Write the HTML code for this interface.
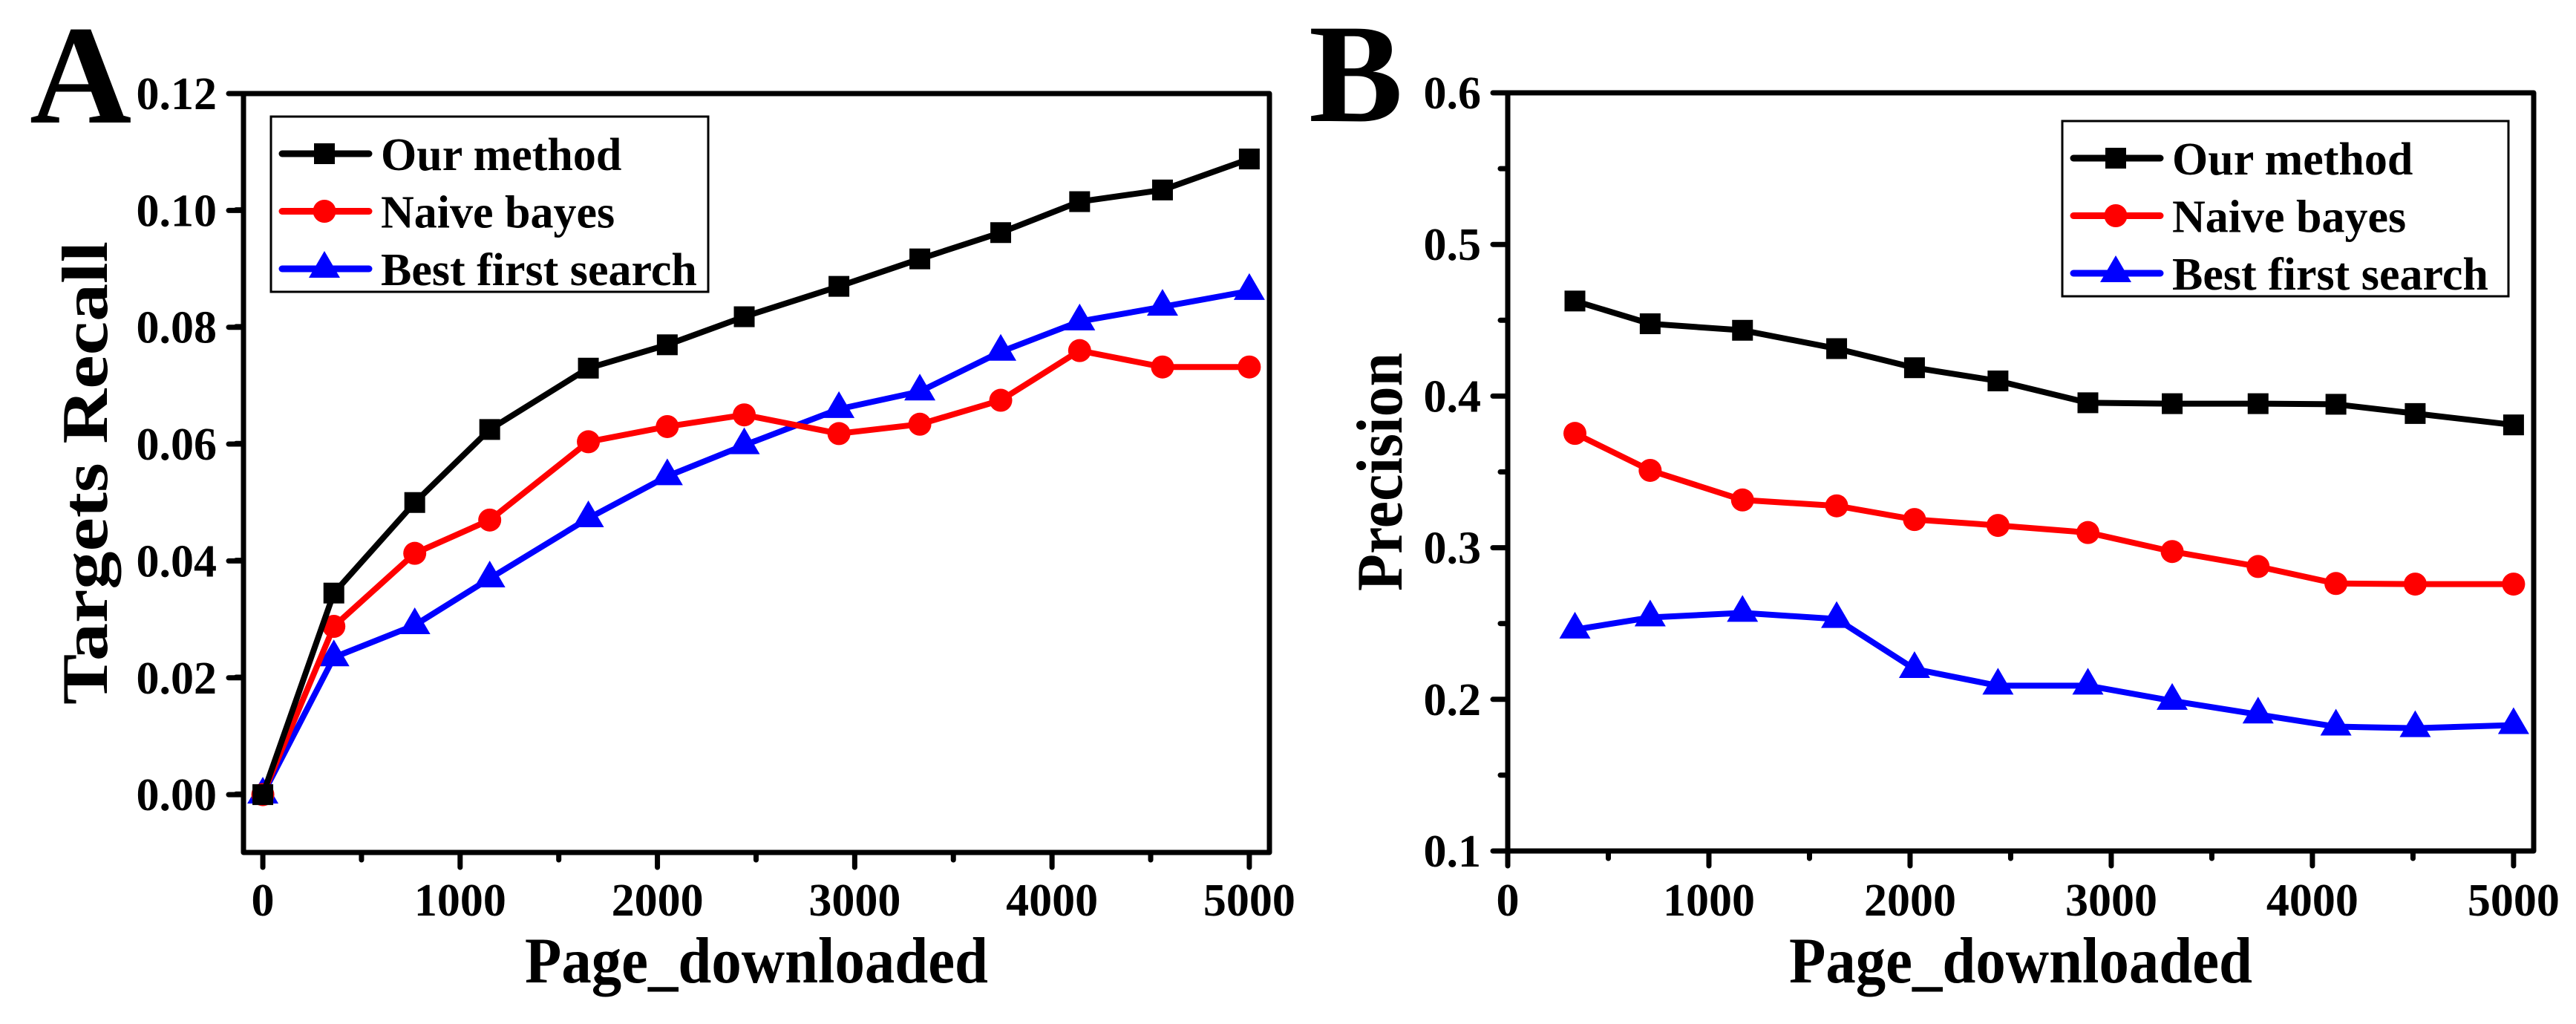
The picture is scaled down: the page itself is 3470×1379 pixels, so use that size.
<!DOCTYPE html>
<html><head><meta charset="utf-8"><style>
html,body{margin:0;padding:0;background:#fff;}
svg{display:block;font-family:"Liberation Serif",serif;font-weight:bold;}
svg text{font-family:"Liberation Serif","DejaVu Serif",serif;font-weight:bold;}
</style></head><body>
<svg id="fig" width="3470" height="1379" viewBox="0 0 3470 1379" xmlns="http://www.w3.org/2000/svg">
<rect width="3470" height="1379" fill="#fff"/>
<text x="40" y="165" font-size="190" font-family="Liberation Serif, serif" font-weight="bold">A</text>
<text x="1763" y="163" font-size="190" font-family="Liberation Serif, serif" font-weight="bold">B</text>
<g id="chartA"></g>
<g id="chartB"></g>
</svg>
<script>
// Panel A data
const xA = [0, 360, 770, 1150, 1650, 2050, 2440, 2920, 3330, 3740, 4140, 4560, 5000];
const ourA = [0, 0.0345, 0.050, 0.0625, 0.073, 0.077, 0.0818, 0.087, 0.0917, 0.0962, 0.1015, 0.1035, 0.1088];
const naiveA = [0, 0.0288, 0.0413, 0.047, 0.0604, 0.063, 0.065, 0.0618, 0.0634, 0.0675, 0.076, 0.0732, 0.0732];
const bestA = [0, 0.0235, 0.029, 0.037, 0.0473, 0.0545, 0.0598, 0.066, 0.069, 0.0758, 0.081, 0.0835, 0.0862];
const yTicksA = ["0.00","0.02","0.04","0.06","0.08","0.10","0.12"];
// Panel B data
const xB = [334, 708, 1167, 1635, 2022, 2437, 2884, 3303, 3730, 4117, 4511, 5000];
const ourB = [0.4627, 0.4477, 0.4434, 0.4313, 0.4187, 0.410, 0.3956, 0.395, 0.395, 0.3946, 0.3885, 0.381];
const naiveB = [0.3754, 0.351, 0.3315, 0.3276, 0.3186, 0.3147, 0.310, 0.2975, 0.2876, 0.2764, 0.276, 0.276];
const bestB = [0.246, 0.254, 0.257, 0.253, 0.220, 0.209, 0.209, 0.199, 0.190, 0.182, 0.181, 0.183];
const yTicksB = ["0.1","0.2","0.3","0.4","0.5","0.6"];
const xTicks = ["0","1000","2000","3000","4000","5000"];
const seriesNames = ["Our method","Naive bayes","Best first search"];

const NS = "http://www.w3.org/2000/svg";
function mk(parent, tag, attrs){
  const e = document.createElementNS(NS, tag);
  for (const k in attrs) e.setAttribute(k, attrs[k]);
  if (tag === "text") { e.setAttribute("font-family", "Liberation Serif, serif"); e.setAttribute("font-weight", "bold"); }
  parent.appendChild(e);
  return e;
}
function marker(g, kind, cx, cy, color){
  let m;
  if (kind === "square") m = mk(g, "rect", {x: cx-14, y: cy-14, width: 28, height: 28, fill: color});
  else if (kind === "circle") m = mk(g, "circle", {cx: cx, cy: cy, r: 15.5, fill: color});
  else m = mk(g, "polygon", {points: `${cx},${cy-24} ${cx+21},${cy+12} ${cx-21},${cy+12}`, fill: color});
  return m;
}

function drawChart(g, cfg){
  const {L, R, T, B, x0, x1, y0, y1, xv, series, yTicks, yMinorStep, yTitle, yTitleX, yTitleLen, legend} = cfg;
  const sx = v => L + (v - x0) / (x1 - x0) * (R - L);
  const sy = v => B - (v - y0) / (y1 - y0) * (B - T);
  const fr = mk(g, "rect", {x: L, y: T, width: R-L, height: B-T, fill: "none", stroke: "#000", "stroke-width": 7, "stroke-linejoin": "round"});
  
  
  for (let i = 0; i < xTicks.length; i++) {
    const v = +xTicks[i];
    const x = sx(v);
    const t = mk(g, "line", {x1: x, y1: B, x2: x, y2: B+20, stroke: "#000", "stroke-width": 7, "stroke-linecap": "round"});
    
    
    const lb = mk(g, "text", {x: x, y: 1233, "font-size": 62, "text-anchor": "middle"});
    lb.textContent = xTicks[i];
    
    
    if (i < xTicks.length - 1) {
      const xm = sx(v + 500);
      const mt = mk(g, "line", {x1: xm, y1: B, x2: xm, y2: B+10, stroke: "#000", "stroke-width": 7, "stroke-linecap": "round"});
      
      
    }
  }
  for (let i = 0; i < yTicks.length; i++) {
    const v = +yTicks[i];
    const y = sy(v);
    const t = mk(g, "line", {x1: L-20, y1: y, x2: L, y2: y, stroke: "#000", "stroke-width": 7, "stroke-linecap": "round"});
    
    
    const lb = mk(g, "text", {x: L-36, y: y+21, "font-size": 62, "text-anchor": "end"});
    lb.textContent = yTicks[i];
    
    
  }
  for (let v = y0 + yMinorStep/2; v < y1; v += yMinorStep) {
    const y = sy(v);
    if (Math.abs(y - B) < 3 || Math.abs(y - T) < 3) continue;
    const isMajor = yTicks.some(t => Math.abs(+t - v) < 1e-9);
    if (isMajor) continue;
    const mt = mk(g, "line", {x1: L-10, y1: y, x2: L, y2: y, stroke: "#000", "stroke-width": 7, "stroke-linecap": "round"});
    
    
  }
  const xt = mk(g, "text", {x: (L+R)/2, y: 1323, "font-size": 88, "text-anchor": "middle", textLength: 624, lengthAdjust: "spacingAndGlyphs"});
  xt.textContent = "Page_downloaded";
  
  
  const yt = mk(g, "text", {x: 0, y: 0, "font-size": 88, "text-anchor": "middle", textLength: yTitleLen, lengthAdjust: "spacingAndGlyphs", transform: `translate(${yTitleX},${(T+B)/2}) rotate(-90)`});
  yt.textContent = yTitle;
  
  
  const colors = ["#000", "#f00", "#00f"];
  const kinds = ["square", "circle", "triangle"];
  const sNames = ["our-method", "naive-bayes", "best-first-search"];
  for (let si = series.length - 1; si >= 0; si--) {
    const sg = mk(g, "g", {});
    
    
    const pts = xv.map((xx, i) => `${sx(xx)},${sy(series[si][i])}`).join(" ");
    const pl = mk(sg, "polyline", {points: pts, fill: "none", stroke: colors[si], "stroke-width": 8, "stroke-linejoin": "round"});
    
    
    for (let i = 0; i < xv.length; i++) {
      const m = marker(sg, kinds[si], sx(xv[i]), sy(series[si][i]), colors[si]);
      
      
    }
  }
  const lg = mk(g, "g", {});
  
  
  const lb = mk(lg, "rect", {x: legend.x, y: legend.y, width: legend.w, height: 236, fill: "#fff", stroke: "#000", "stroke-width": 3});
  
  
  for (let si = 0; si < 3; si++) {
    const y = legend.y + 50 + si * 77.5;
    const eg = mk(lg, "g", {});
    
    
    mk(eg, "line", {x1: legend.x+15, y1: y, x2: legend.x+132, y2: y, stroke: colors[si], "stroke-width": 9, "stroke-linecap": "round"});
    marker(eg, kinds[si], legend.x+72, y, colors[si]);
    const tx = mk(eg, "text", {x: legend.x+148, y: y+22, "font-size": 62});
    tx.textContent = seriesNames[si];
  }
}

drawChart(document.getElementById("chartA"), {
  L: 328, R: 1710, T: 126, B: 1148, x0: -98, x1: 5102, y0: -0.0099, y1: 0.12,
  xv: xA, series: [ourA, naiveA, bestA], yTicks: yTicksA, yMinorStep: 0.02,
  yTitle: "Targets Recall", yTitleX: 144, yTitleLen: 624,
  legend: {x: 365, y: 157, w: 589}
});
drawChart(document.getElementById("chartB"), {
  L: 2031, R: 3413, T: 125, B: 1146, x0: 0, x1: 5100, y0: 0.1, y1: 0.6,
  xv: xB, series: [ourB, naiveB, bestB], yTicks: yTicksB, yMinorStep: 0.1,
  yTitle: "Precision", yTitleX: 1888, yTitleLen: 321,
  legend: {x: 2778, y: 163, w: 601}
});
</script>
</body></html>
